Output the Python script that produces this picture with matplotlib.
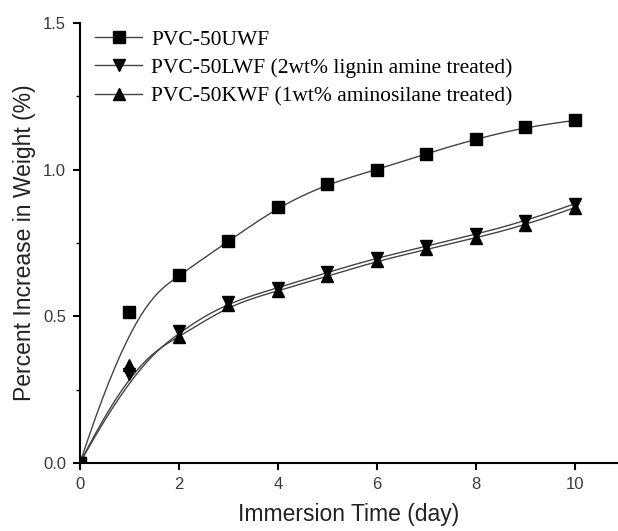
import numpy as np
import matplotlib
matplotlib.use('Agg')
import matplotlib.pyplot as plt
from matplotlib.ticker import MultipleLocator

# water uptake of the PVC / wood flour composites
days = [0, 1, 2, 3, 4, 5, 6, 7, 8, 9, 10]
uwf = [0.0, 0.515, 0.640, 0.756, 0.873, 0.952, 1.000, 1.055, 1.105, 1.146, 1.168]
lwf = [0.0, 0.305, 0.451, 0.548, 0.597, 0.650, 0.699, 0.739, 0.780, 0.824, 0.884]
kwf = [0.0, 0.334, 0.428, 0.538, 0.587, 0.637, 0.688, 0.728, 0.768, 0.810, 0.871]

names = ['PVC-50UWF',
         'PVC-50LWF (2wt% lignin amine treated)',
         'PVC-50KWF (1wt% aminosilane treated)']
markers = ['s', 'v', '^']


def bspline(x, y, n=300):
    # clamped uniform cubic B-spline, data points used as control points
    P = np.column_stack([x, y]).astype(float)
    k = 3
    m = len(P)
    inner = np.arange(1, m - k)
    knots = np.concatenate([[0] * (k + 1), inner, [m - k] * (k + 1)]).astype(float)
    u = np.linspace(0, m - k, n)
    u[-1] -= 1e-9

    def basis(i, p, t):
        if p == 0:
            return ((knots[i] <= t) & (t < knots[i + 1])).astype(float)
        a = 0.0
        b = 0.0
        d1 = knots[i + p] - knots[i]
        d2 = knots[i + p + 1] - knots[i + 1]
        if d1 > 0:
            a = (t - knots[i]) / d1 * basis(i, p - 1, t)
        if d2 > 0:
            b = (knots[i + p + 1] - t) / d2 * basis(i + 1, p - 1, t)
        return a + b

    B = np.array([basis(i, k, u) for i in range(m)])
    C = B.T @ P
    return C[:, 0], C[:, 1]


fig = plt.figure(figsize=(6.18, 5.31), dpi=100)
ax = fig.add_axes([0.1294, 0.128, 0.8706, 0.8287])

for ys, mk, name in zip([uwf, lwf, kwf], markers, names):
    cx, cy = bspline(days, ys)
    ax.plot(cx, cy, color='#444444', lw=1.0, zorder=2)
    ax.plot(days, ys, linestyle='none', marker=mk, ms=9, color='black', zorder=3)
    # legend entry: line with marker in the middle
    ax.plot([], [], color='#444444', lw=1.0, marker=mk, ms=9,
            mfc='black', mec='black', label=name)

ax.set_xlim(0, 10.87)
ax.set_ylim(0, 1.5)
ax.xaxis.set_major_locator(MultipleLocator(2))
ax.yaxis.set_minor_locator(MultipleLocator(0.25))
ax.set_yticks([0, 0.5, 1.0, 1.5])
ax.set_yticklabels(['0.0', '0.5', '1.0', '1.5'])

for s in ['top', 'right']:
    ax.spines[s].set_visible(False)
for s in ['left', 'bottom']:
    ax.spines[s].set_linewidth(1.5)
ax.tick_params(which='major', direction='out', length=5, width=1.5,
               labelsize=12, colors='black', pad=5)
ax.tick_params(which='minor', direction='out', length=3, width=1.0)
for t in ax.get_xticklabels() + ax.get_yticklabels():
    t.set_fontfamily('Liberation Sans')
    t.set_color('#3a3a3a')

ax.set_xlabel('Immersion Time (day)', fontsize=16.5, family='Liberation Sans',
              color='#222222', labelpad=8)
ax.set_ylabel('Percent Increase in Weight (%)', fontsize=16.5, family='Liberation Sans',
              color='#222222', labelpad=5)

ax.legend(loc='upper left', bbox_to_anchor=(0.02, 0.995), frameon=False,
          prop={'family': 'Liberation Serif', 'size': 15.5},
          handlelength=2.2, handletextpad=0.4, labelspacing=0.38,
          borderaxespad=0.0, borderpad=0.2)

fig.savefig('out.png', dpi=100)
